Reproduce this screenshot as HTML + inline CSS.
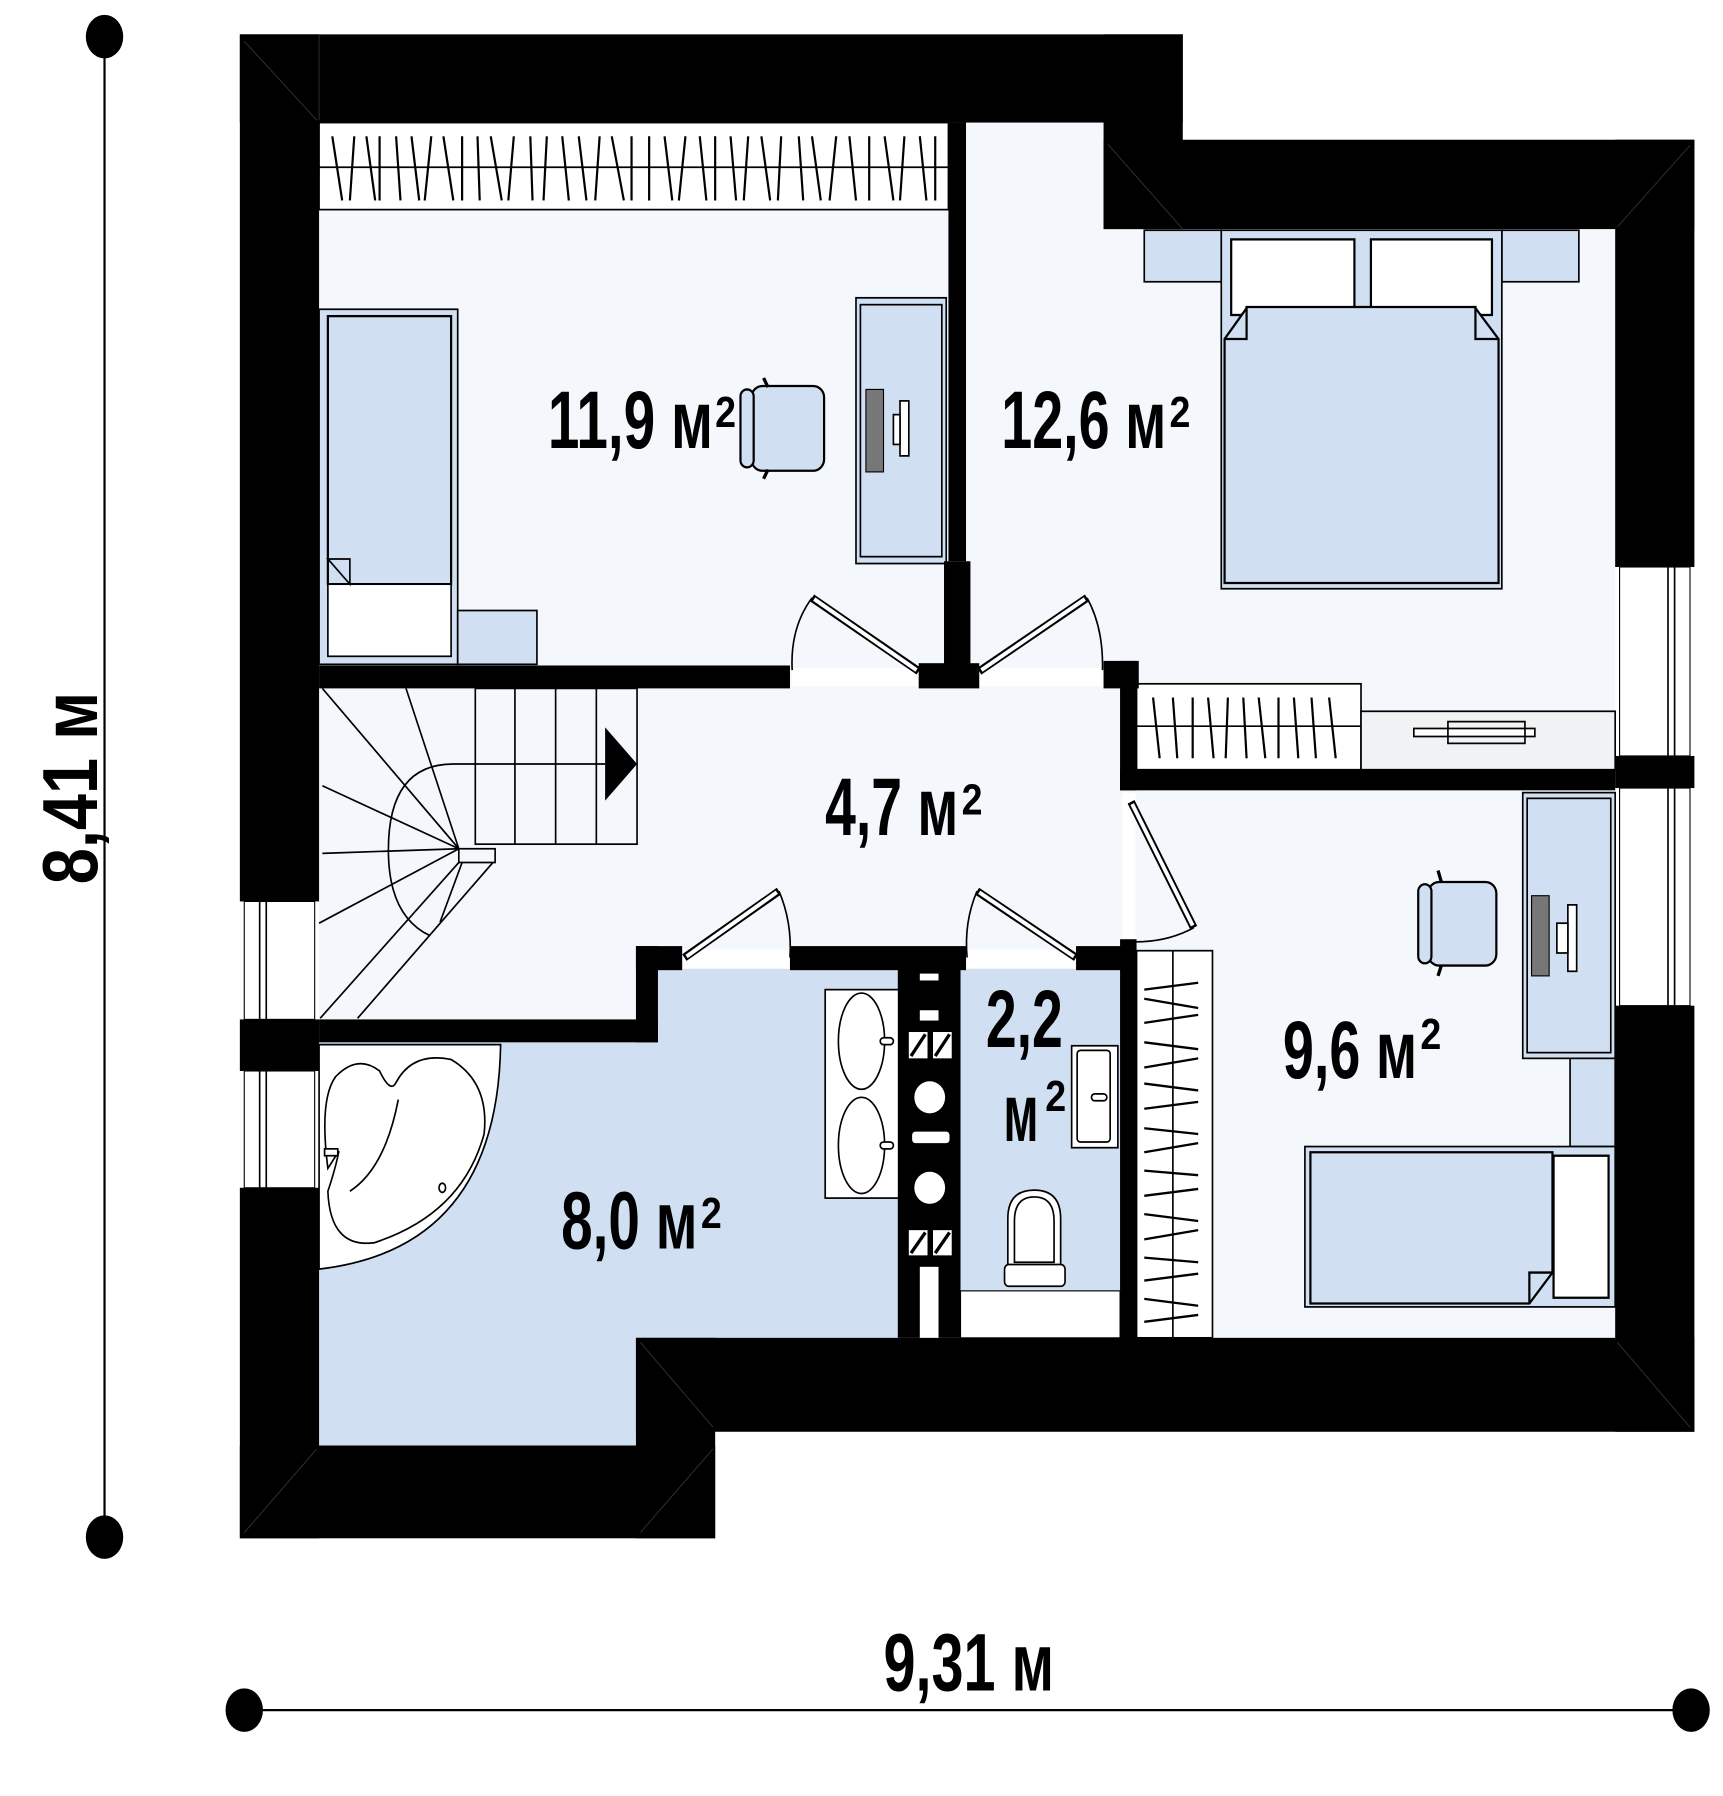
<!DOCTYPE html>
<html><head><meta charset="utf-8"><style>
html,body{margin:0;padding:0;background:#fff;width:1723px;height:1796px;overflow:hidden}
svg{display:block}
.t{font-family:"Liberation Sans Narrow","Liberation Sans",sans-serif;font-weight:bold;fill:#000}
</style></head><body>
<svg width="1723" height="1796" viewBox="0 0 1566 1568" preserveAspectRatio="none" xmlns="http://www.w3.org/2000/svg">
<rect x="0" y="0" width="1566" height="1568" fill="#fff"/>
<!-- floors -->
<polygon points="290,107 1003,107 1003,200 1468,200 1468,1168 290,1168" fill="#f4f8fd"/>
<polygon points="598,846 820,846 820,1168 578,1168 578,1262 290,1262 290,910 598,910" fill="#d0dff2"/>
<rect x="873" y="846" width="145" height="281" fill="#d0dff2"/>
<rect x="873" y="1127" width="145" height="41" fill="#fff" stroke="#000" stroke-width="1"/>

<!-- top wardrobe -->
<rect x="290" y="107" width="572" height="76" fill="#fff" stroke="#000" stroke-width="1.5"/>
<line x1="290" y1="146" x2="862" y2="146" stroke="#000" stroke-width="1.5"/>
<g stroke="#000" stroke-width="2">
<path d="M302,119 L311,175 M322,119 L318,175 M333,119 L341,175 M345,119 L345,175 M360,119 L364,175 M374,119 L381,175 M392,119 L386,175 M403,119 L412,175 M420,119 L420,175 M434,119 L436,175 M446,119 L456,175 M467,119 L462,175 M482,119 L484,175 M497,119 L494,175 M511,119 L517,175 M526,119 L533,175 M545,119 L541,175 M556,119 L567,175 M574,119 L574,175 M590,119 L590,175 M604,119 L611,175 M623,119 L617,175 M636,119 L642,175 M650,119 L650,175 M664,119 L669,175 M680,119 L676,175 M692,119 L700,175 M710,119 L707,175 M726,119 L730,175 M738,119 L746,175 M760,119 L754,175 M772,119 L778,175 M790,119 L790,175 M804,119 L812,175 M822,119 L818,175 M836,119 L842,175 M850,119 L850,175"/>
</g>

<!-- bed 11.9 -->
<rect x="290" y="270" width="126" height="310" fill="#d0dff2" stroke="#000" stroke-width="1.5"/>
<rect x="298" y="276" width="112" height="234" fill="#d0dff2" stroke="#000" stroke-width="2"/>
<rect x="298" y="510" width="112" height="63" fill="#fff" stroke="#000" stroke-width="1.5"/>
<polygon points="298,488 318,488 318,510" fill="#d0dff2" stroke="#000" stroke-width="1.5"/>
<rect x="416" y="533" width="72" height="47" fill="#d0dff2" stroke="#000" stroke-width="1.5"/>
<!-- desk 11.9 -->
<rect x="778" y="260" width="82" height="232" fill="#d0dff2" stroke="#000" stroke-width="1.5"/>
<rect x="782" y="266" width="74" height="220" fill="none" stroke="#000" stroke-width="1.5"/>
<rect x="787" y="340" width="16" height="72" fill="#777" stroke="#000"/>
<rect x="818" y="350" width="8" height="48" fill="#fff" stroke="#000" stroke-width="1.5"/>
<rect x="812" y="362" width="6" height="26" fill="#fff" stroke="#000" stroke-width="1.5"/>
<!-- chair 11.9 -->
<rect x="683" y="337" width="66" height="74" rx="10" fill="#d0dff2" stroke="#000" stroke-width="2"/>
<rect x="673" y="340" width="12" height="68" rx="6" fill="#d0dff2" stroke="#000" stroke-width="2"/>
<line x1="694" y1="330" x2="698" y2="338" stroke="#000" stroke-width="3"/>
<line x1="694" y1="418" x2="698" y2="410" stroke="#000" stroke-width="3"/>

<!-- 12.6 bedroom furniture -->
<rect x="1040" y="201" width="70" height="45" fill="#d0dff2" stroke="#000" stroke-width="1.5"/>
<rect x="1365" y="201" width="70" height="45" fill="#d0dff2" stroke="#000" stroke-width="1.5"/>
<rect x="1110" y="201" width="255" height="313" fill="#d0dff2" stroke="#000" stroke-width="1.5"/>
<rect x="1119" y="209" width="112" height="66" fill="#fff" stroke="#000" stroke-width="2"/>
<rect x="1246" y="209" width="110" height="66" fill="#fff" stroke="#000" stroke-width="2"/>
<polygon points="1133,268 1341,268 1341,269 1362,296 1362,509 1113,509 1113,296 1133,269" fill="#d0dff2" stroke="#000" stroke-width="2"/>
<polyline points="1113,296 1133,296 1133,268" fill="none" stroke="#000" stroke-width="2"/>
<polyline points="1362,296 1341,296 1341,268" fill="none" stroke="#000" stroke-width="2"/>

<!-- 12.6 wardrobe & bench -->
<rect x="1033" y="597" width="204" height="75" fill="#fff" stroke="#000" stroke-width="1.5"/>
<line x1="1033" y1="634" x2="1237" y2="634" stroke="#000" stroke-width="1.5"/>
<g stroke="#000" stroke-width="2">
<path d="M1048,609 L1054,662 M1066,609 L1070,662 M1084,609 L1084,662 M1098,609 L1103,662 M1116,609 L1114,662 M1130,609 L1133,662 M1144,609 L1150,662 M1162,609 L1162,662 M1176,609 L1180,662 M1192,609 L1196,662 M1208,609 L1214,662"/>
</g>
<rect x="1237" y="621" width="231" height="51" fill="#f0f2f4" stroke="#000" stroke-width="1.5"/>
<rect x="1285" y="636" width="110" height="7" fill="#fff" stroke="#000" stroke-width="1.5"/>
<rect x="1316" y="630" width="70" height="19" fill="none" stroke="#000" stroke-width="1.5"/>

<!-- 9.6 furniture -->
<rect x="1384" y="692" width="84" height="232" fill="#d0dff2" stroke="#000" stroke-width="1.5"/>
<rect x="1388" y="697" width="76" height="222" fill="none" stroke="#000" stroke-width="1.5"/>
<rect x="1392" y="782" width="16" height="70" fill="#777" stroke="#000"/>
<rect x="1425" y="790" width="8" height="58" fill="#fff" stroke="#000" stroke-width="1.5"/>
<rect x="1415" y="806" width="10" height="26" fill="#fff" stroke="#000" stroke-width="1.5"/>
<rect x="1427" y="924" width="41" height="77" fill="#d0dff2" stroke="#000" stroke-width="1.5"/>
<rect x="1298" y="770" width="62" height="73" rx="10" fill="#d0dff2" stroke="#000" stroke-width="2"/>
<rect x="1289" y="772" width="12" height="69" rx="6" fill="#d0dff2" stroke="#000" stroke-width="2"/>
<line x1="1307" y1="760" x2="1310" y2="770" stroke="#000" stroke-width="3"/>
<line x1="1307" y1="852" x2="1310" y2="843" stroke="#000" stroke-width="3"/>
<rect x="1186" y="1001" width="282" height="140" fill="#d0dff2" stroke="#000" stroke-width="1.5"/>
<rect x="1412" y="1009" width="50" height="124" fill="#fff" stroke="#000" stroke-width="2"/>
<polygon points="1191,1006 1411,1006 1411,1111 1390,1138 1191,1138" fill="#d0dff2" stroke="#000" stroke-width="2"/>
<polyline points="1390,1138 1390,1111 1411,1111" fill="none" stroke="#000" stroke-width="2"/>

<!-- 9.6 wardrobe -->
<rect x="1033" y="830" width="69" height="338" fill="#fff" stroke="#000" stroke-width="1.5"/>
<line x1="1066" y1="830" x2="1066" y2="1168" stroke="#000" stroke-width="1.5"/>
<g stroke="#000" stroke-width="2">
<path d="M1040,864 L1089,858 M1040,872 L1089,880 M1040,893 L1089,886 M1040,910 L1089,916 M1040,932 L1089,924 M1040,946 L1089,952 M1040,968 L1089,962 M1040,985 L1089,990 M1040,1006 L1089,998 M1040,1022 L1089,1026 M1040,1044 L1089,1038 M1040,1060 L1089,1066 M1040,1082 L1089,1074 M1040,1098 L1089,1102 M1040,1118 L1089,1112 M1040,1134 L1089,1140 M1040,1154 L1089,1148"/>
</g>

<!-- stairs -->
<g stroke="#000" stroke-width="1.5" fill="none">
<rect x="432" y="601" width="147" height="136"/>
<line x1="468" y1="601" x2="468" y2="737"/>
<line x1="505" y1="601" x2="505" y2="737"/>
<line x1="542" y1="601" x2="542" y2="737"/>
<path d="M550,667 L412,667 Q353,667 353,742 Q353,800 391,817"/>
<line x1="417" y1="741" x2="293" y2="601"/>
<line x1="417" y1="741" x2="369" y2="601"/>
<line x1="417" y1="741" x2="293" y2="686"/>
<line x1="417" y1="741" x2="293" y2="745"/>
<line x1="417" y1="741" x2="290" y2="806"/>
<line x1="417" y1="753" x2="291" y2="889"/>
<line x1="448" y1="753" x2="325" y2="889"/>
<line x1="420" y1="753" x2="400" y2="805"/>
<rect x="417" y="741" width="33" height="12"/>
</g>
<polygon points="550,635 579,667 550,699" fill="#000"/>

<!-- bath furniture -->
<path d="M455,912 Q452,1090 290,1108 L290,912 Z" fill="#fff" stroke="#000" stroke-width="1.5"/>
<path d="M298,1020 Q290,960 305,940 Q325,920 345,935 Q355,955 360,945 Q375,918 410,925 Q445,945 440,990 Q420,1060 340,1085 Q300,1090 298,1040 Q305,1020 308,1005 Z" fill="#fff" stroke="#000" stroke-width="1.5"/>
<path d="M318,1040 Q350,1020 362,960" fill="none" stroke="#000" stroke-width="1.5"/>
<ellipse cx="402" cy="1037" rx="3" ry="4" fill="#fff" stroke="#000" stroke-width="1.5"/>
<rect x="295" y="1003" width="12" height="6" fill="#fff" stroke="#000" stroke-width="1.5"/>
<rect x="750" y="864" width="70" height="182" fill="#fff" stroke="#000" stroke-width="1.5"/>
<ellipse cx="783" cy="909" rx="21" ry="42" fill="#fff" stroke="#000" stroke-width="1.5"/>
<ellipse cx="783" cy="1000" rx="21" ry="42" fill="#fff" stroke="#000" stroke-width="1.5"/>
<rect x="800" y="906" width="12" height="6" rx="3" fill="#fff" stroke="#000" stroke-width="1.5"/>
<rect x="800" y="997" width="12" height="6" rx="3" fill="#fff" stroke="#000" stroke-width="1.5"/>
<!-- WC -->
<rect x="974" y="913" width="42" height="89" fill="#fff" stroke="#000" stroke-width="1.5"/>
<rect x="979" y="917" width="30" height="80" rx="3" fill="#fff" stroke="#000" stroke-width="1.5"/>
<rect x="992" y="955" width="14" height="6" rx="3" fill="#fff" stroke="#000" stroke-width="1.5"/>
<path d="M916,1105 L916,1064 Q916,1039 940,1039 Q964,1039 964,1064 L964,1105 Z" fill="#fff" stroke="#000" stroke-width="1.5"/>
<path d="M922,1102 L922,1066 Q922,1045 940,1045 Q958,1045 958,1066 L958,1102 Z" fill="#fff" stroke="#000" stroke-width="1.5"/>
<rect x="913" y="1104" width="55" height="19" rx="4" fill="#fff" stroke="#000" stroke-width="1.5"/>

<!-- walls -->
<g fill="#000">
<rect x="218" y="30" width="857" height="77"/>
<rect x="1003" y="30" width="72" height="170"/>
<rect x="1003" y="122" width="537" height="78"/>
<rect x="1468" y="122" width="72" height="373"/>
<rect x="1468" y="660" width="72" height="28"/>
<rect x="1468" y="878" width="72" height="372"/>
<rect x="578" y="1168" width="962" height="82"/>
<rect x="218" y="1262" width="432" height="81"/>
<rect x="578" y="1168" width="72" height="175"/>
<rect x="218" y="30" width="72" height="757"/>
<rect x="218" y="890" width="72" height="45"/>
<rect x="218" y="1037" width="72" height="306"/>
<!-- interior -->
<rect x="862" y="107" width="16" height="383"/>
<rect x="858" y="490" width="24" height="90"/>
<rect x="290" y="581" width="428" height="20"/>
<rect x="835" y="579" width="55" height="22"/>
<rect x="1003" y="577" width="32" height="24"/>
<rect x="1018" y="577" width="15" height="113"/>
<rect x="1018" y="672" width="450" height="18"/>
<rect x="1018" y="820" width="15" height="350"/>
<rect x="978" y="826" width="42" height="21"/>
<rect x="578" y="826" width="42" height="21"/>
<rect x="578" y="826" width="20" height="84"/>
<rect x="290" y="890" width="308" height="20"/>
<rect x="718" y="826" width="160" height="21"/>
<rect x="816" y="846" width="57" height="322"/>
</g>
<!-- corner diagonals -->
<g stroke="#333" stroke-width="0.8">
<line x1="222" y1="36" x2="288" y2="105"/><line x1="290" y1="30" x2="290" y2="105"/>
<line x1="1075" y1="200" x2="1007" y2="126"/>
<line x1="1470" y1="198" x2="1536" y2="127"/>
<line x1="1470" y1="1172" x2="1536" y2="1246"/>
<line x1="222" y1="1338" x2="288" y2="1265"/>
<line x1="582" y1="1172" x2="648" y2="1246"/>
<line x1="582" y1="1338" x2="648" y2="1265"/>
</g>
<!-- shaft details -->
<g fill="#fff">
<rect x="836" y="850" width="17" height="6"/>
<rect x="836" y="882" width="17" height="9"/>
<rect x="826" y="901" width="17" height="23"/><rect x="848" y="901" width="17" height="23"/>
<circle cx="845" cy="958" r="14"/>
<rect x="829" y="988" width="34" height="10" rx="3"/>
<circle cx="845" cy="1037" r="14"/>
<rect x="826" y="1074" width="17" height="22"/><rect x="848" y="1074" width="17" height="22"/>
<rect x="836" y="1106" width="17" height="62"/>
</g>
<g stroke="#000" stroke-width="3">
<line x1="828" y1="922" x2="841" y2="903"/><line x1="850" y1="922" x2="863" y2="903"/>
<line x1="828" y1="1094" x2="841" y2="1076"/><line x1="850" y1="1094" x2="863" y2="1076"/>
</g>
<!-- windows -->
<g fill="#fff" stroke="#000" stroke-width="1">
<rect x="222" y="787" width="64" height="103"/>
<rect x="222" y="935" width="64" height="102"/>
<rect x="1472" y="495" width="64" height="165"/>
<rect x="1472" y="688" width="64" height="190"/>
</g>
<g stroke="#000" stroke-width="1.5">
<line x1="236" y1="787" x2="236" y2="890"/><line x1="242" y1="787" x2="242" y2="890"/>
<line x1="236" y1="935" x2="236" y2="1037"/><line x1="242" y1="935" x2="242" y2="1037"/>
<line x1="1516" y1="495" x2="1516" y2="660"/><line x1="1522" y1="495" x2="1522" y2="660"/>
<line x1="1516" y1="688" x2="1516" y2="878"/><line x1="1522" y1="688" x2="1522" y2="878"/>
</g>
<!-- door thresholds -->
<g fill="#fff">
<rect x="720" y="583" width="114" height="16"/>
<rect x="891" y="583" width="111" height="16"/>
<rect x="621" y="829" width="96" height="16"/>
<rect x="879" y="829" width="98" height="16"/>
<rect x="1020" y="692" width="12" height="127"/>
</g>
<!-- doors -->
<g fill="none">
<g stroke="#000" stroke-width="7">
<line x1="835" y1="586" x2="738" y2="522"/>
<line x1="890" y1="586" x2="988" y2="522"/>
<line x1="622" y1="836" x2="708" y2="778"/>
<line x1="978" y1="836" x2="888" y2="778"/>
<line x1="1028" y1="700" x2="1085" y2="810"/>
</g>
<g stroke="#fff" stroke-width="3.5">
<line x1="833" y1="585" x2="740" y2="523"/>
<line x1="892" y1="585" x2="986" y2="523"/>
<line x1="624" y1="835" x2="706" y2="779"/>
<line x1="976" y1="835" x2="890" y2="779"/>
<line x1="1029" y1="702" x2="1084" y2="808"/>
</g>
<g stroke="#000" stroke-width="1.5">
<path d="M738,522 Q718,548 720,585"/>
<path d="M988,522 Q1003,548 1002,585"/>
<path d="M708,778 Q720,805 718,836"/>
<path d="M888,778 Q876,805 879,836"/>
<path d="M1085,810 Q1058,824 1025,822"/>
</g>
</g>

<!-- labels -->
<text class="t" x="498" y="391" font-size="71" textLength="150" lengthAdjust="spacingAndGlyphs">11,9 м</text>
<text class="t" x="650" y="373" font-size="38" textLength="19" lengthAdjust="spacingAndGlyphs">2</text>
<text class="t" x="910" y="391" font-size="71" textLength="150" lengthAdjust="spacingAndGlyphs">12,6 м</text>
<text class="t" x="1063" y="373" font-size="38" textLength="19" lengthAdjust="spacingAndGlyphs">2</text>
<text class="t" x="750" y="729" font-size="71" textLength="121" lengthAdjust="spacingAndGlyphs">4,7 м</text>
<text class="t" x="874" y="711" font-size="38" textLength="19" lengthAdjust="spacingAndGlyphs">2</text>
<text class="t" x="896" y="914" font-size="71" textLength="70" lengthAdjust="spacingAndGlyphs">2,2</text>
<text class="t" x="912" y="996" font-size="71" textLength="32" lengthAdjust="spacingAndGlyphs">м</text>
<text class="t" x="950" y="970" font-size="38" textLength="19" lengthAdjust="spacingAndGlyphs">2</text>
<text class="t" x="1166" y="941" font-size="71" textLength="122" lengthAdjust="spacingAndGlyphs">9,6 м</text>
<text class="t" x="1291" y="916" font-size="38" textLength="19" lengthAdjust="spacingAndGlyphs">2</text>
<text class="t" x="510" y="1090" font-size="71" textLength="124" lengthAdjust="spacingAndGlyphs">8,0 м</text>
<text class="t" x="637" y="1072" font-size="38" textLength="19" lengthAdjust="spacingAndGlyphs">2</text>

<!-- dimensions -->
<line x1="95" y1="32" x2="95" y2="1338" stroke="#000" stroke-width="2"/>
<ellipse cx="95" cy="32" rx="17" ry="19" fill="#000"/>
<ellipse cx="95" cy="1342" rx="17" ry="19" fill="#000"/>
<line x1="222" y1="1493" x2="1537" y2="1493" stroke="#000" stroke-width="2"/>
<ellipse cx="222" cy="1493" rx="17" ry="19" fill="#000"/>
<ellipse cx="1537" cy="1493" rx="17" ry="19" fill="#000"/>
<text class="t" x="803" y="1476" font-size="71" textLength="155" lengthAdjust="spacingAndGlyphs">9,31 м</text>
<text class="t" transform="translate(88,772) rotate(-90)" x="0" y="0" font-size="71" textLength="168" lengthAdjust="spacingAndGlyphs">8,41 м</text>
</svg>
</body></html>
